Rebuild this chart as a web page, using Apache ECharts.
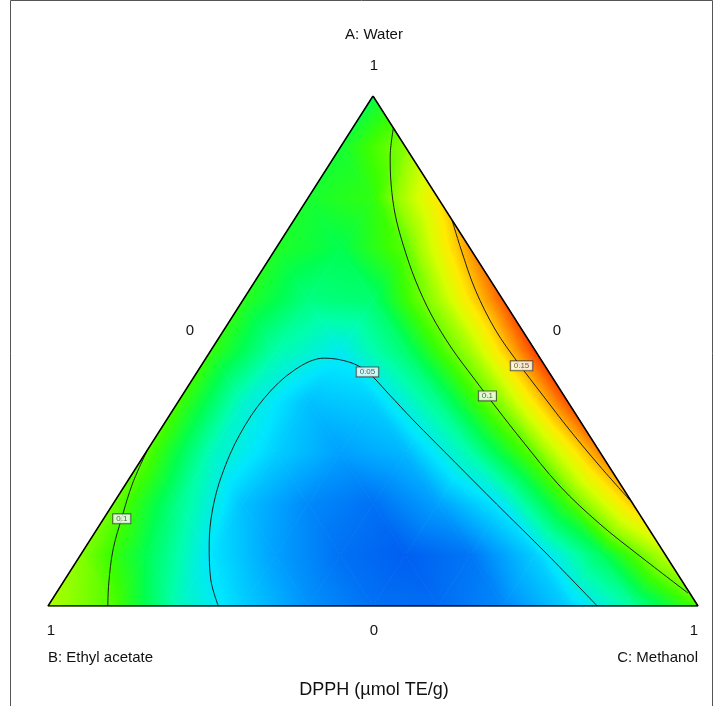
<!DOCTYPE html>
<html><head><meta charset="utf-8">
<script src="https://cdn.jsdelivr.net/npm/echarts/dist/echarts.min.js"></script>
<style>html,body{margin:0;padding:0;background:#fff}#c{width:713px;height:706px}</style>
</head><body><div id="c"></div>
<script>
// ---------------- DATA ----------------
const componentA = 'A: Water';
const componentB = 'B: Ethyl acetate';
const componentC = 'C: Methanol';
const responseTitle = 'DPPH (µmol TE/g)';
const vertexTick = '1';
const centerTick = '0';

// Response surface on a ternary lattice (step 0.1).
// Row k : A = k/10 ; entries: C = 0, 0.1, ... , 1 - A
const surfRow0  = [0.115,0.098,0.062,0.045,0.032,0.025,0.024,0.030,0.045,0.067,0.097];
const surfRow1  = [0.107,0.080,0.050,0.035,0.025,0.021,0.026,0.045,0.077,0.118];
const surfRow2  = [0.103,0.070,0.042,0.030,0.025,0.035,0.052,0.094,0.148];
const surfRow3  = [0.100,0.062,0.045,0.035,0.040,0.065,0.102,0.163];
const surfRow4  = [0.096,0.059,0.042,0.045,0.070,0.110,0.175];
const surfRow5  = [0.093,0.065,0.053,0.075,0.113,0.178];
const surfRow6  = [0.090,0.072,0.075,0.113,0.172];
const surfRow7  = [0.088,0.080,0.100,0.160];
const surfRow8  = [0.086,0.092,0.140];
const surfRow9  = [0.085,0.108];
const surfRow10 = [0.082];

// Contour lines, points as [A, C] fractions
const contour005 = [[0,0.262],[0.051,0.225],[0.120,0.188],[0.188,0.159],[0.257,0.139],[0.335,0.127],[0.408,0.129],[0.463,0.148],[0.486,0.182],[0.478,0.225],[0.459,0.262],[0.416,0.316],[0.365,0.379],[0.282,0.485],[0.200,0.590],[0.100,0.719],[0,0.845]];
const contour010R = [[0.9373,0.0627],[0.8804,0.0862],[0.8255,0.1152],[0.7667,0.1509],[0.7078,0.1926],[0.6392,0.2455],[0.5706,0.3046],[0.5059,0.3678],[0.4471,0.4312],[0.3882,0.4960],[0.3255,0.5660],[0.2353,0.6697],[0.1608,0.7686],[0.0980,0.8615],[0.0255,0.9718]];
const contour015 = [[0.7569,0.2431],[0.6980,0.2868],[0.6196,0.3477],[0.5412,0.4178],[0.4784,0.4831],[0.4137,0.5540],[0.3451,0.6300],[0.2745,0.7115],[0.2078,0.7911]];
const contour010L = [[0.306,0],[0.241,0.0098],[0.173,0.027],[0.110,0.045],[0.045,0.071],[0,0.092]];
const contourLabels = ['0.05','0.1','0.15','0.1'];
const contourLabelPos = [[0.459,0.262],[0.412,0.470],[0.471,0.493],[0.171,0.028]];

// colour map (response value -> rgb)
const cmapValues = [0.010,0.020,0.035,0.050,0.065,0.080,0.095,0.110,0.125,0.140,0.150,0.165,0.180,0.195];
const cmapColors = [[0,40,255],[0,90,240],[0,160,255],[0,230,255],[0,255,170],[0,255,80],[60,255,0],[150,255,0],[215,255,0],[255,235,0],[255,195,0],[255,125,0],[255,55,0],[255,20,0]];

// ---------------- BUILD ----------------
const surfRows = [surfRow0,surfRow1,surfRow2,surfRow3,surfRow4,surfRow5,surfRow6,surfRow7,surfRow8,surfRow9,surfRow10];
function tern(a, c){ return [c + a/2, a]; }
function colorAt(v){
  const n = cmapValues.length;
  if (v <= cmapValues[0]) return cmapColors[0];
  if (v >= cmapValues[n-1]) return cmapColors[n-1];
  for (let i=0;i<n-1;i++){
    if (v <= cmapValues[i+1]){
      const t = (v - cmapValues[i])/(cmapValues[i+1]-cmapValues[i]);
      return cmapColors[i].map((x,k)=>x + (cmapColors[i+1][k]-x)*t);
    }
  }
}
function rgb(c){ return 'rgb(' + c.map(x=>Math.round(x)).join(',') + ')'; }

const cells = [];
function pt(ia, ic){ const p = tern(ia/10, ic/10); return [p[0], p[1], surfRows[ia][ic]]; }
for (let ia=0; ia<10; ia++){
  for (let ic=0; ic<=9-ia; ic++){
    cells.push([].concat(pt(ia,ic), pt(ia,ic+1), pt(ia+1,ic)));
    if (ic <= 8-ia) cells.push([].concat(pt(ia,ic+1), pt(ia+1,ic+1), pt(ia+1,ic)));
  }
}

function renderCell(params, api){
  const P = [], V = [];
  for (let k=0;k<3;k++){
    P.push(api.coord([api.value(3*k), api.value(3*k+1)]));
    V.push(api.value(3*k+2));
  }
  const d1x=P[1][0]-P[0][0], d1y=P[1][1]-P[0][1], d2x=P[2][0]-P[0][0], d2y=P[2][1]-P[0][1];
  const dv1=V[1]-V[0], dv2=V[2]-V[0];
  const det = d1x*d2y - d1y*d2x;
  const gx = (dv1*d2y - dv2*d1y)/det, gy = (d1x*dv2 - d2x*dv1)/det;
  const g2 = gx*gx + gy*gy;
  let fill;
  const vLo = Math.min(...V), vHi = Math.max(...V);
  if (g2 < 1e-14 || vHi - vLo < 1e-9){
    fill = rgb(colorAt(V[0]));
  } else {
    const sx = P[0][0] + (vLo-V[0])*gx/g2, sy = P[0][1] + (vLo-V[0])*gy/g2;
    const ex = P[0][0] + (vHi-V[0])*gx/g2, ey = P[0][1] + (vHi-V[0])*gy/g2;
    const stops = [{offset:0, color: rgb(colorAt(vLo))}];
    cmapValues.forEach(v=>{ if (v>vLo && v<vHi) stops.push({offset:(v-vLo)/(vHi-vLo), color: rgb(colorAt(v))}); });
    stops.push({offset:1, color: rgb(colorAt(vHi))});
    fill = new echarts.graphic.LinearGradient(sx, sy, ex, ey, stops, true);
  }
  return {type:'polygon', shape:{points:P}, style:{fill: fill, stroke: fill, lineWidth: 0.8}};
}

const toXY = arr => arr.map(p => tern(p[0], p[1]));
const contourStyle = {type:'line', smooth:0.35, symbol:'none', lineStyle:{color:'#1e1e1e', width:1}, z:3, silent:true, animation:false};

const font = 'Liberation Sans, Arial, sans-serif';
const txt = (text, x, y, size, align) => ({type:'text', x:x, y:y, style:{text:text, fill:'#111', font: size + 'px ' + font, textAlign: align || 'center', textVerticalAlign:'middle'}});

const chart = echarts.init(document.getElementById('c'), null, {renderer:'canvas'});
chart.setOption({
  animation:false,
  backgroundColor:'#fff',
  grid:{left:48, right:15, top:96, bottom:100},
  xAxis:{type:'value', min:0, max:1, show:false},
  yAxis:{type:'value', min:0, max:1, show:false},
  series:[
    {type:'custom', renderItem: renderCell, data: cells, z:1, silent:true, animation:false,
     dimensions:['x0','y0','v0','x1','y1','v1','x2','y2','v2'], encode:{x:[0,3,6], y:[1,4,7]}},
    Object.assign({data: toXY(contour005)}, contourStyle),
    Object.assign({data: toXY(contour010R)}, contourStyle),
    Object.assign({data: toXY(contour015)}, contourStyle),
    Object.assign({data: toXY(contour010L)}, contourStyle),
    {type:'line', data:[tern(1,0), tern(0,0), tern(0,1), tern(1,0)], symbol:'none', lineStyle:{color:'#000', width:1.5}, z:4, silent:true, animation:false},
    {type:'scatter', z:5, silent:true, animation:false, symbolSize:1, itemStyle:{color:'rgba(0,0,0,0)'},
     data: contourLabelPos.map((p,i)=>({value: tern(p[0],p[1]), name: contourLabels[i]})),
     label:{show:true, position:'inside', formatter: p=>p.name, fontSize:8, fontFamily: font, color:'#333',
            backgroundColor:'#fff', borderColor:'#3a3a3a', borderWidth:1, padding:[1,3,0,3]}}
  ],
  graphic:[
    {type:'rect', shape:{x:10.5, y:0.5, width:702, height:712}, style:{fill:'none', stroke:'#555', lineWidth:1}, silent:true},
    txt(componentA, 374, 35, 15),
    txt(vertexTick, 374, 66, 15),
    txt(centerTick, 190, 331, 15),
    txt(centerTick, 557, 331, 15),
    txt(vertexTick, 51, 631, 15),
    txt(centerTick, 374, 631, 15),
    txt(vertexTick, 694, 631, 15),
    txt(componentB, 48, 658, 15, 'left'),
    txt(componentC, 698, 658, 15, 'right'),
    txt(responseTitle, 374, 690, 18)
  ]
});
</script></body></html>
